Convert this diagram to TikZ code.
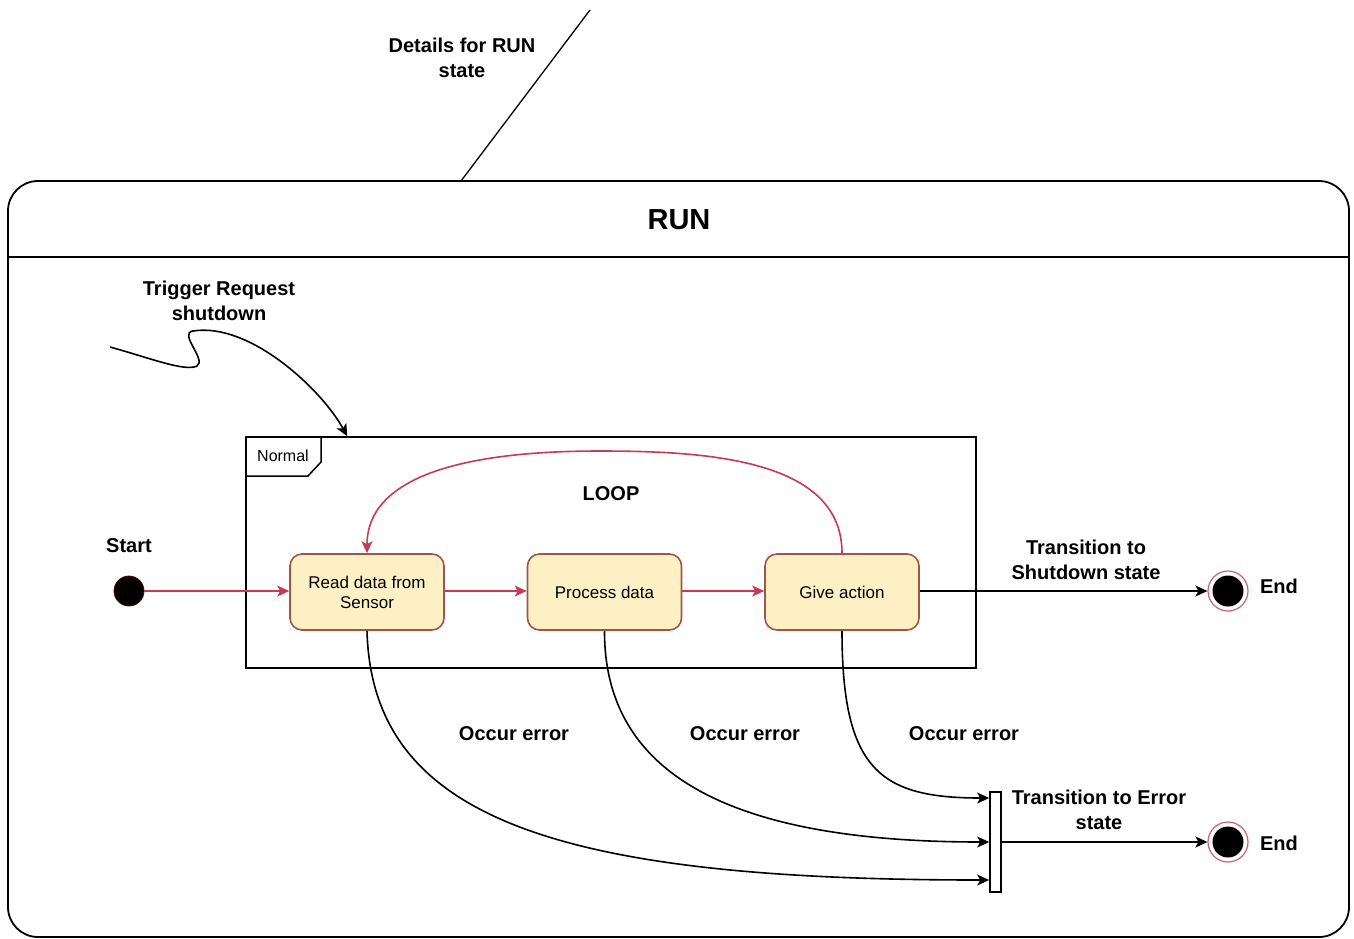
\documentclass[tikz,border=0pt]{standalone}
\usepackage{fontspec}
\setmainfont{Liberation Sans}
\usetikzlibrary{arrows.meta,calc}
\definecolor{redline}{HTML}{C73A54}
\definecolor{boxfill}{HTML}{FCF0C4}
\definecolor{boxdraw}{HTML}{A0554C}
\definecolor{ringcol}{HTML}{D0606E}
\tikzset{
  lbl/.style={font=\fontsize{20}{25}\selectfont\bfseries, align=center, inner sep=0pt},
  statebox/.style={draw=boxdraw, fill=boxfill, line width=1.6pt, rounded corners=12pt,
    minimum width=154pt, minimum height=76pt, align=center, inner sep=0pt,
    font=\fontsize{17}{20}\selectfont},
  redarrow/.style={draw=redline, line width=1.6pt, -{Stealth[length=12pt,width=11pt,inset=3pt]}},
  blackarrow/.style={draw=black, line width=1.6pt, -{Stealth[length=12pt,width=11pt,inset=3pt]}},
}
\begin{document}
\begin{tikzpicture}[x=1pt,y=-1pt]
\useasboundingbox (0,0) rectangle (1354,938);
% outer container
\draw[line width=1.8pt, rounded corners=30pt] (8,181) rectangle (1349,937);
\draw[line width=1.8pt] (8,257) -- (1349,257);
\node[font=\fontsize{29}{34}\selectfont\bfseries] (run) at (679,220) {RUN};
% details line
\coordinate (d1) at (590,10);
\coordinate (d2) at (461,181);
\draw[line width=1.3pt] (d1) -- (d2);
\node[lbl] (det) at (462,58) {Details for RUN\\state};
% trigger
\node[lbl] (trigtxt) at (219,301) {Trigger Request\\shutdown};
% normal frame
\node[draw, line width=1.6pt, minimum width=730pt, minimum height=231pt, inner sep=0pt] (frame) at (611,552.5) {};
\draw[line width=1.5pt] (246,476) -- (308,476) -- (321,462) -- (321,437);
\node[font=\fontsize{16}{19}\selectfont] (normal) at (283,456) {Normal};
\node[lbl] (loop) at (611,494) {LOOP};
\coordinate (trig) at (110,347);
\draw[blackarrow] (trig) .. controls (150,358) and (185,372) .. (197,366)
  .. controls (207,360) and (178,333) .. (193,331)
  .. controls (250,322) and (322,390) .. ([xshift=102pt]frame.north west);
% start
\node[circle, fill=black, draw=black!60!red, line width=0.8pt, minimum size=30pt, inner sep=0pt] (start) at (129,591) {};
\node[lbl] (starttxt) at (129,546) {Start};
% states
\node[statebox] (b1) at (367,592) {Read data from\\Sensor};
\node[statebox] (b2) at (604.5,592) {Process data};
\node[statebox] (b3) at (842,592) {Give action};
\draw[redarrow] (start) -- (b1.west |- start);
\draw[redarrow] (b1.east |- start) -- (b2.west |- start);
\draw[redarrow] (b2.east |- start) -- (b3.west |- start);
\draw[redarrow] (b3.north) .. controls (842,460) and (710,451) .. (600,451)
  .. controls (430,451) and (367,490) .. (b1.north);
% end nodes
\node[circle, draw=ringcol, line width=1.2pt, minimum size=40pt, inner sep=0pt] (e1) at (1228,591) {};
\fill[black] (e1.center) circle (15.5pt);
\node[circle, draw=ringcol, line width=1.2pt, minimum size=40pt, inner sep=0pt] (e2) at (1228,842) {};
\fill[black] (e2.center) circle (15.5pt);
\node[lbl] (e1txt) at (1279,586) {End};
\node[lbl] (e2txt) at (1279,843) {End};
\draw[blackarrow] (b3.east |- e1) -- (e1.west);
\node[lbl] (shut) at (1086,560) {Transition to\\Shutdown state};
% bar
\node[draw, line width=1.6pt, minimum width=11pt, minimum height=100pt, inner sep=0pt] (bar) at (995.5,842) {};
\draw[blackarrow] (bar.east) -- (e2.west);
\node[lbl] (errtxt) at (1099,810) {Transition to Error\\state};
% error curves
\draw[blackarrow] (b1.south) .. controls (372,820) and (560,880) .. ([yshift=-38pt]bar.west);
\draw[blackarrow] (b2.south) .. controls (604,790) and (760,842) .. (bar.west);
\draw[blackarrow] (b3.south) .. controls (842,770) and (880,798) .. ([yshift=44pt]bar.west);
\node[lbl] (oe1) at (514,734) {Occur error};
\node[lbl] (oe2) at (745,734) {Occur error};
\node[lbl] (oe3) at (964,734) {Occur error};
\end{tikzpicture}
\end{document}
